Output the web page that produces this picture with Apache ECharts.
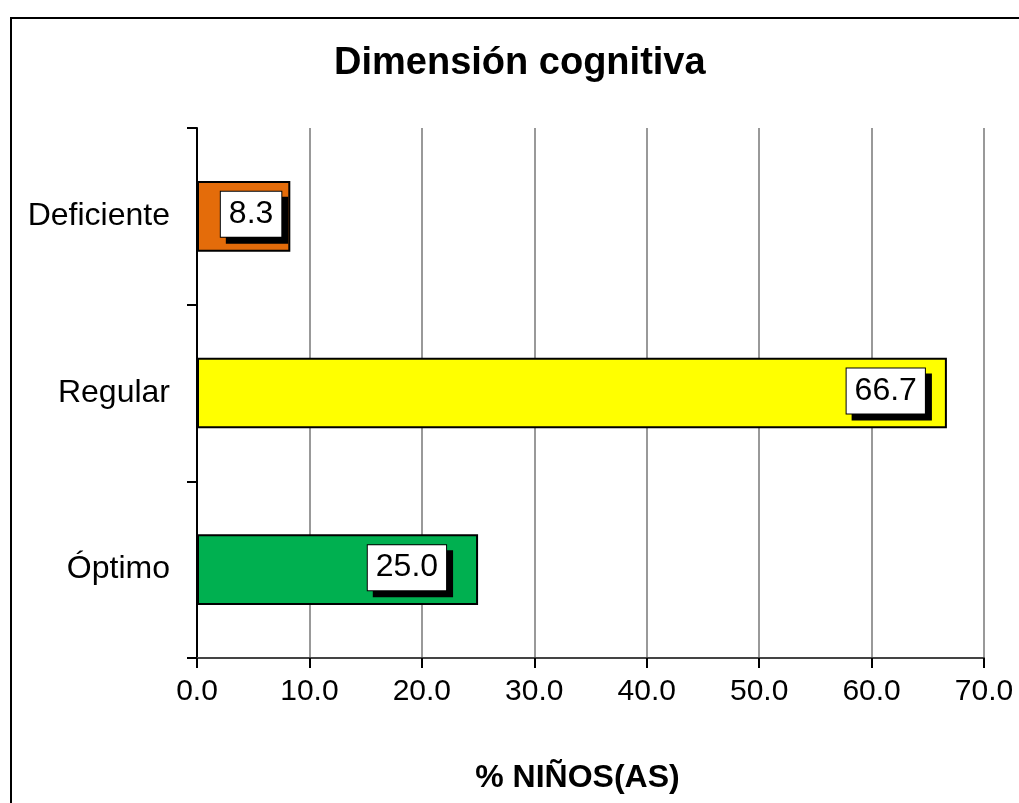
<!DOCTYPE html>
<html>
<head>
<meta charset="utf-8">
<script src="https://cdn.jsdelivr.net/npm/echarts@6/dist/echarts.min.js"></script>
<style>
  html, body { margin: 0; padding: 0; background: #fff; }
  #chart { width: 1019px; height: 803px; }
</style>
</head>
<body>
<div id="chart"></div>
<script>
  // datos
  var categories = ['Deficiente', 'Regular', 'Óptimo'];
  var values = [8.3, 66.7, 25.0];
  var barColors = ['#E46C0A', '#FFFF00', '#00B050'];
  // desplazamiento manual de las etiquetas (como en el original)
  var labelShift = [-9, -22, -32];

  var chart = echarts.init(document.getElementById('chart'));
  var font = 'Liberation Sans, Arial, sans-serif';

  chart.setOption({
    backgroundColor: '#fff',
    animation: false,
    title: {
      text: 'Dimensión cognitiva',
      left: 329,
      top: 40,
      textStyle: { fontFamily: font, fontSize: 38, fontWeight: 'bold', color: '#000' }
    },
    graphic: [{
      type: 'rect',
      shape: { x: 11, y: 18, width: 1100, height: 900 },
      style: { fill: 'none', stroke: '#000', lineWidth: 2 },
      silent: true
    }],
    grid: { left: 197, right: 35, top: 128, bottom: 145 },
    xAxis: {
      type: 'value',
      min: 0,
      max: 70,
      interval: 10,
      name: '% NIÑOS(AS)',
      nameLocation: 'middle',
      nameGap: 104,
      nameTextStyle: {
        fontFamily: font, fontSize: 32, fontWeight: 'bold', color: '#000',
        padding: [0, 26, 0, 0]
      },
      axisLine: { show: true, lineStyle: { color: '#444', width: 2 } },
      axisTick: { show: true, length: 10, lineStyle: { color: '#000', width: 2 } },
      axisLabel: {
        margin: 19,
        fontFamily: font,
        fontSize: 30,
        color: '#000',
        formatter: function (v) { return v.toFixed(1); }
      },
      splitLine: { show: true, lineStyle: { color: '#999', width: 2 } }
    },
    yAxis: {
      type: 'category',
      inverse: true,
      data: categories,
      axisLine: { show: true, lineStyle: { color: '#000', width: 2 } },
      axisTick: { show: true, length: 10, lineStyle: { color: '#000', width: 2 } },
      axisLabel: { margin: 27, fontFamily: font, fontSize: 32, color: '#000' },
      splitLine: { show: false }
    },
    series: [{
      type: 'bar',
      barWidth: '40%',
      data: values.map(function (v, i) {
        return {
          value: v,
          itemStyle: { color: barColors[i] },
          label: { offset: [labelShift[i], -2] }
        };
      }),
      itemStyle: { borderColor: '#000', borderWidth: 2 },
      label: {
        show: true,
        position: 'insideRight',
        distance: 0,
        formatter: function (p) { return p.value.toFixed(1); },
        fontFamily: font,
        fontSize: 32,
        color: '#000',
        backgroundColor: '#fff',
        borderColor: '#000',
        borderWidth: 1,
        padding: [8, 8, 5, 8],
        shadowColor: '#000',
        shadowBlur: 0,
        shadowOffsetX: 6,
        shadowOffsetY: 6
      }
    }]
  });
</script>
</body>
</html>
